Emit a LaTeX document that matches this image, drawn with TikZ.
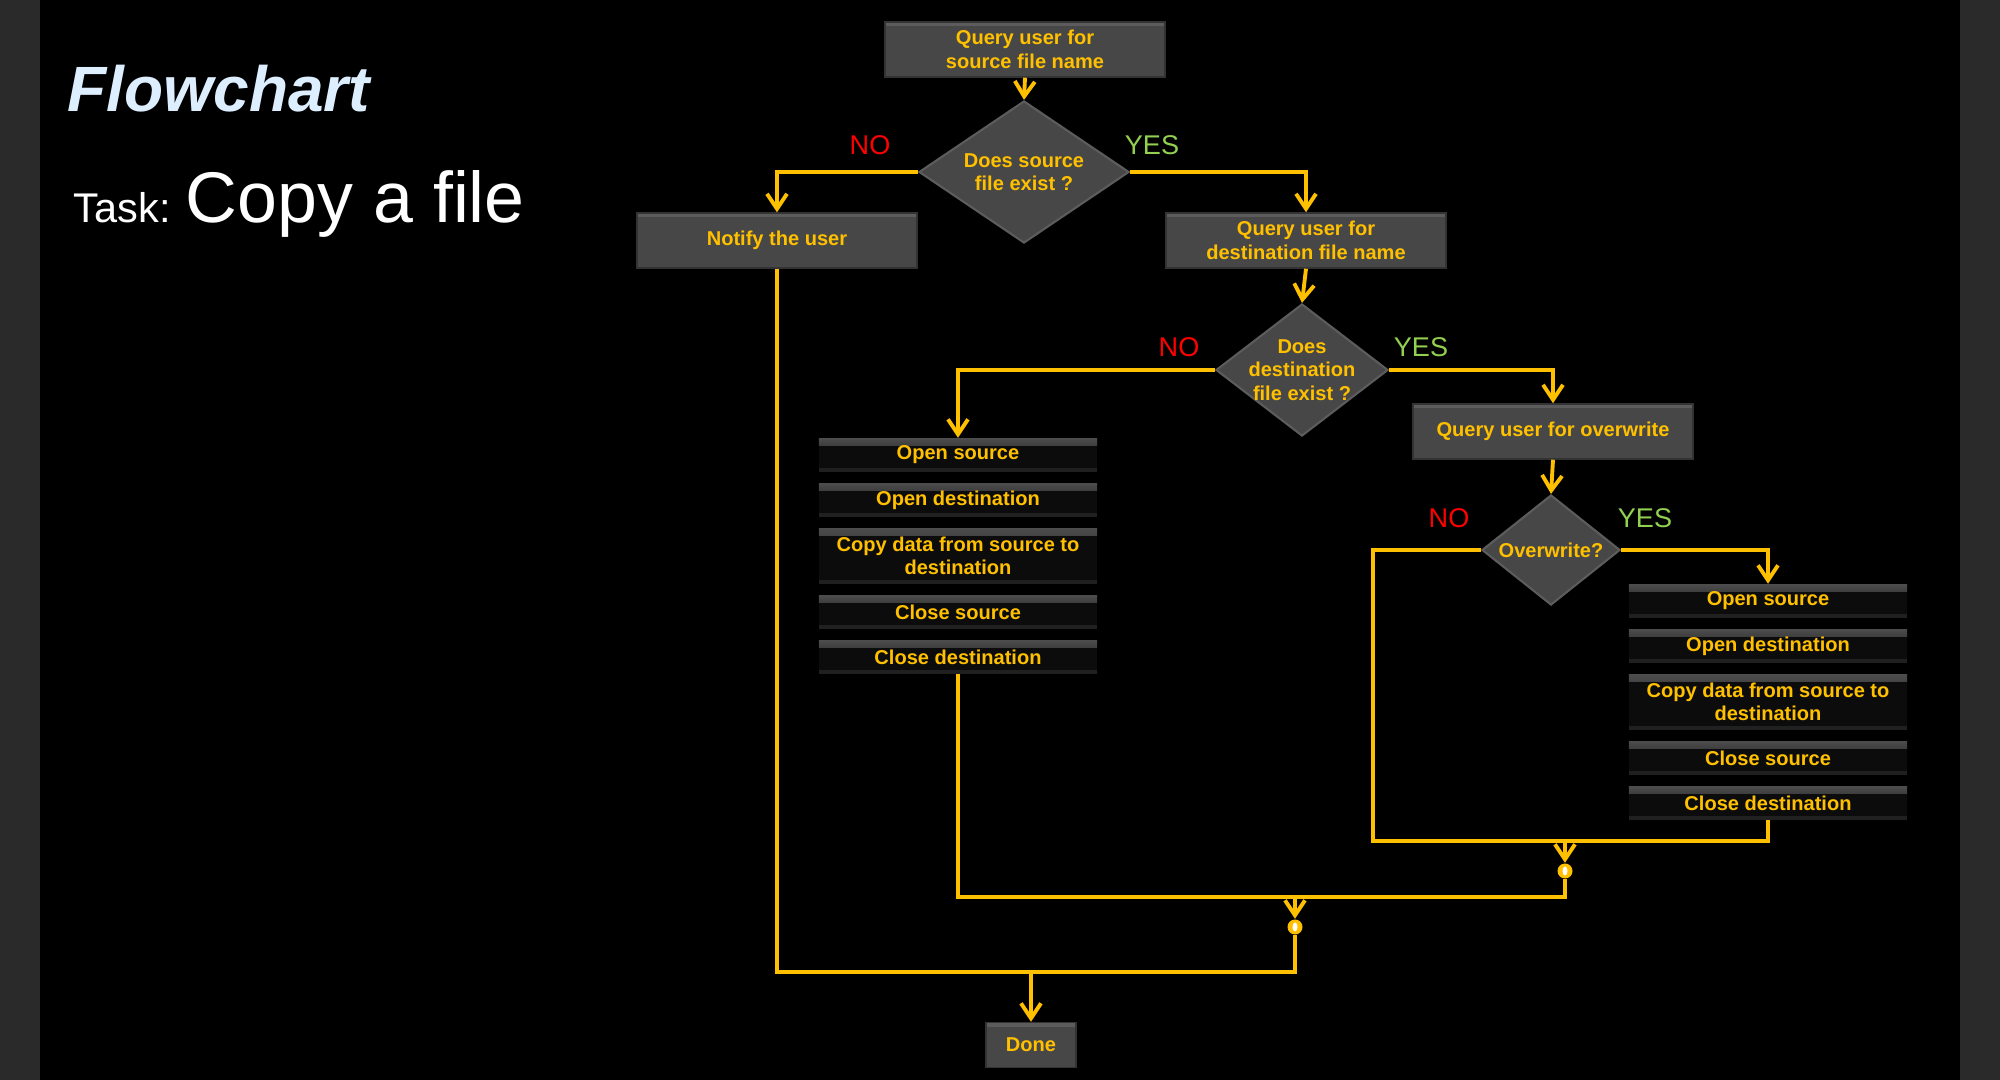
\documentclass[tikz,border=0pt]{standalone}
\usepackage{fontspec}
\setmainfont{Liberation Sans}
\usetikzlibrary{arrows.meta,shapes.geometric}
\definecolor{gold}{HTML}{FFC000}
\definecolor{boxgray}{HTML}{474747}
\definecolor{boxlight}{HTML}{5C5C5C}
\definecolor{boxedge}{HTML}{333333}
\definecolor{itemblack}{HTML}{0C0C0C}
\definecolor{itemtop}{HTML}{4C4C4C}
\definecolor{itembottom}{HTML}{202020}
\definecolor{sideband}{HTML}{2A2A2A}
\definecolor{titleblue}{HTML}{DDEEFF}
\definecolor{nored}{HTML}{FF0000}
\definecolor{yesgreen}{HTML}{92D050}
\def\boxfont{\bfseries\fontsize{5.7}{6.7}\selectfont}
\tikzset{
  graybox/.style={rectangle, fill=boxgray, draw=boxedge, line width=0.4pt,
    minimum width=2.8cm, minimum height=0.55cm, inner sep=1pt, align=center,
    text=gold, font=\boxfont,
    path picture={\fill[boxlight] (path picture bounding box.north west)
      rectangle ([yshift=-0.045cm]path picture bounding box.north east);}},
  stepitem/.style={rectangle, fill=itemblack, minimum width=2.78cm,
    minimum height=0.33cm, inner sep=1pt, align=center, text=gold, font=\boxfont,
    path picture={\shade[top color=itemtop, bottom color=itemblack]
      (path picture bounding box.north west)
      rectangle ([yshift=-0.07cm]path picture bounding box.north east);
      \fill[itembottom] (path picture bounding box.south west)
      rectangle ([yshift=0.035cm]path picture bounding box.south east);}},
  decision/.style={diamond, fill=boxgray, draw=boxlight, line width=0.6pt, inner sep=0pt},
  boxtext/.style={align=center, text=gold, font=\boxfont},
  answer/.style={font=\fontsize{7.7}{9}\selectfont},
  junction/.style={circle, fill=gold, inner sep=0pt, minimum size=0.15cm,
    path picture={\fill[white] (path picture bounding box.center) ellipse (0.025cm and 0.045cm);}},
  wire/.style={draw=gold, line width=1.1pt},
  flowarrow/.style={wire, -{Straight Barb[length=1.5mm,width=2mm]}},
}

\begin{document}
\begin{tikzpicture}[x=0.01cm, y=-0.01cm]
		%%%%% START %%%%%
		\useasboundingbox (0,0) rectangle (2000,1080);
		\fill[black] (0,0) rectangle (2000,1080);
		\fill[sideband] (0,0) rectangle (40,1080);
		\fill[sideband] (1960,0) rectangle (2000,1080);
		
		\node[anchor=base west, inner sep=0pt, text=titleblue, font=\bfseries\itshape\fontsize{18.2}{22}\selectfont] (title) at (67,112) {Flowchart};
		\node[anchor=base west, inner sep=0pt, text=white] (task) at (73,223) {\fontsize{11.8}{14}\selectfont Task: \fontsize{20.4}{24}\selectfont Copy a file};
		
		%%%%% QUERIES AND DECISIONS %%%%%
		\node[graybox] (qsrc) at (1025,49.5) {Query user for\\source file name};
		\node[decision, minimum width=2.1cm, minimum height=1.42cm,
		  label={[boxtext]center:{Does source\\file exist ?}}] (dsrc) at (1024,172) {};
		\node[graybox] (notify) at (777,240.5) {Notify the user};
		\node[graybox] (qdst) at (1306,240.5) {Query user for\\destination file name};
		\node[decision, minimum width=1.72cm, minimum height=1.32cm,
		  label={[boxtext]center:{Does\\destination\\file exist ?}}] (ddst) at (1302,370) {};
		\node[graybox] (qovr) at (1553,431.5) {Query user for overwrite};
		\node[decision, minimum width=1.38cm, minimum height=1.1cm,
		  label={[boxtext]center:{Overwrite?}}] (dovr) at (1551,550) {};
		
		\node[answer, text=nored] (nosrc) at (870,145) {NO};
		\node[answer, text=yesgreen] (yessrc) at (1152,145) {YES};
		\node[answer, text=nored] (nodst) at (1179,347) {NO};
		\node[answer, text=yesgreen] (yesdst) at (1421,347) {YES};
		\node[answer, text=nored] (noovr) at (1449,518) {NO};
		\node[answer, text=yesgreen] (yesovr) at (1645,518) {YES};
		
		%%%%% COPY STEPS %%%%%
		\node[stepitem] (lopen) at (958,455) {Open source};
		\node[stepitem] (lopendst) at (958,500) {Open destination};
		\node[stepitem, minimum height=0.55cm] (lcopy) at (958,556) {Copy data from source to\\destination};
		\node[stepitem] (lclose) at (958,612) {Close source};
		\node[stepitem] (lclosedst) at (958,657) {Close destination};
		
		\node[stepitem] (ropen) at (1768,601) {Open source};
		\node[stepitem] (ropendst) at (1768,646) {Open destination};
		\node[stepitem, minimum height=0.55cm] (rcopy) at (1768,702) {Copy data from source to\\destination};
		\node[stepitem] (rclose) at (1768,758) {Close source};
		\node[stepitem] (rclosedst) at (1768,803) {Close destination};
		
		\node[graybox, minimum width=0.9cm, minimum height=0.45cm] (done) at (1031,1045) {Done};
		
		\node[junction] (jovr) at (1565,871) {};
		\node[junction] (jdst) at (1295,927) {};
		\coordinate (cno) at (1373,841);
		\coordinate (mgovr) at (1565,841);
		\coordinate (mgdst) at (1295,897);
		\coordinate (mgall) at (1031,972);
		
		%%%%% CONNECTORS %%%%%
		\draw[flowarrow] (qsrc.south) -- (dsrc.north);
		\draw[flowarrow] (dsrc.west) -| (notify.north);
		\draw[flowarrow] (dsrc.east) -| (qdst.north);
		\draw[flowarrow] (qdst.south) -- (ddst.north);
		\draw[flowarrow] (ddst.west) -| (lopen.north);
		\draw[flowarrow] (ddst.east) -| (qovr.north);
		\draw[flowarrow] (qovr.south) -- (dovr.north);
		\draw[flowarrow] (dovr.east) -| (ropen.north);
		
		\draw[wire] (dovr.west) -| (cno) -- (mgovr);
		\draw[wire] (rclosedst.south) |- (mgovr);
		\draw[flowarrow] (mgovr) -- (jovr.north);
		\draw[wire] (jovr.south) |- (mgdst);
		\draw[wire] (lclosedst.south) |- (mgdst);
		\draw[flowarrow] (mgdst) -- (jdst.north);
		\draw[wire] (jdst.south) |- (mgall);
		\draw[wire] (notify.south) |- (mgall);
		\draw[flowarrow] (mgall) -- (done.north);
		%%%%% END %%%%%
\end{tikzpicture}
\end{document}
